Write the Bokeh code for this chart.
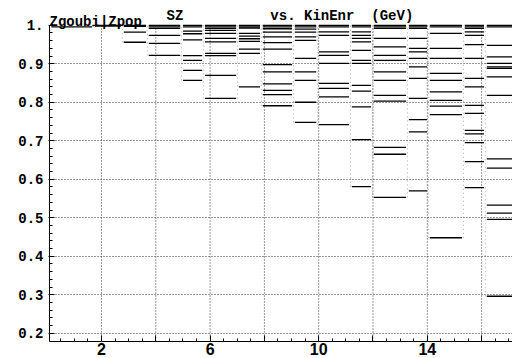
from bokeh.plotting import figure
from bokeh.models import FixedTicker, Range1d, ColumnDataSource
from bokeh.core.properties import value
from bokeh.embed import file_html
from bokeh.resources import INLINE
import numpy as np

# ---- data ----
# energy (GeV) boundaries between successive plateaus
energy_edges = [0.1, 1.71, 2.77, 3.69, 4.95, 5.76, 7.01, 7.89, 9.07, 9.96,
                11.17, 11.98, 13.27, 14.04, 15.33, 16.14, 17.2]

# SZ plateau levels in each energy interval
sz_00 = [0.996]
sz_01 = [1.0, 0.998]
sz_02 = [1.0, 0.997, 0.982, 0.956]
sz_03 = [1.0, 0.996, 0.992, 0.974, 0.953, 0.922]
sz_04 = [1.0, 0.996, 0.985, 0.978, 0.962, 0.921, 0.909, 0.883, 0.857]
sz_05 = [1.0, 0.996, 0.992, 0.987, 0.979, 0.966, 0.957, 0.927, 0.921, 0.870, 0.810]
sz_06 = [1.0, 0.996, 0.993, 0.979, 0.972, 0.965, 0.958, 0.938, 0.927, 0.840]
sz_07 = [1.0, 0.996, 0.991, 0.982, 0.970, 0.955, 0.938, 0.898, 0.879, 0.848, 0.831, 0.820, 0.791]
sz_08 = [1.0, 0.996, 0.990, 0.982, 0.970, 0.961, 0.914, 0.879, 0.857, 0.800, 0.748]
sz_09 = [1.0, 0.996, 0.983, 0.974, 0.931, 0.922, 0.901, 0.849, 0.836, 0.814, 0.742]
sz_10 = [1.0, 0.996, 0.983, 0.974, 0.966, 0.957, 0.935, 0.909, 0.901, 0.844, 0.829, 0.788, 0.703, 0.581]
sz_11 = [1.0, 0.996, 0.992, 0.966, 0.944, 0.922, 0.909, 0.879, 0.857, 0.818, 0.803, 0.683, 0.665, 0.553]
sz_12 = [1.0, 0.996, 0.992, 0.966, 0.940, 0.931, 0.914, 0.892, 0.862, 0.810, 0.755, 0.723, 0.570]
sz_13 = [1.0, 0.996, 0.979, 0.940, 0.914, 0.875, 0.857, 0.827, 0.805, 0.790, 0.768, 0.448]
sz_14 = [1.0, 0.996, 0.992, 0.983, 0.974, 0.950, 0.914, 0.862, 0.840, 0.792, 0.771, 0.727, 0.718, 0.695, 0.646, 0.578]
sz_15 = [1.0, 0.996, 0.948, 0.918, 0.901, 0.892, 0.888, 0.866, 0.818, 0.653, 0.629, 0.533, 0.512, 0.496, 0.296]

sz_levels = [sz_00, sz_01, sz_02, sz_03, sz_04, sz_05, sz_06, sz_07,
             sz_08, sz_09, sz_10, sz_11, sz_12, sz_13, sz_14, sz_15]

x_tick_values = [2, 4, 6, 8, 10, 12, 14, 16]
x_tick_labels = ["2", "", "6", "", "10", "", "14", ""]
y_tick_values = [0.2, 0.3, 0.4, 0.5, 0.6, 0.7, 0.8, 0.9, 1.0]
y_tick_labels = ["0.2", "0.3", "0.4", "0.5", "0.6", "0.7", "0.8", "0.9", "1."]

header_texts = ["Zgoubi|Zpop", "SZ", "vs. KinEnr", "(GeV)"]

# ---- ranges ----
X_LO, X_HI = 0.085, 17.138
Y_LO, Y_HI = 0.1785, 1.0644
Y_TOP = 1.0

# ---- build segments ----
x0, x1, ys = [], [], []
for i, lev in enumerate(sz_levels):
    a, b = energy_edges[i], energy_edges[i + 1]
    for v in lev:
        x0.append(a + 0.05)
        x1.append(b - 0.05)
        ys.append(v)
seg = ColumnDataSource(dict(x0=x0, x1=x1, y=ys))

bx, blo = [], []
for i in range(1, len(sz_levels)):
    bx.append(energy_edges[i])
    blo.append(min(min(sz_levels[i - 1]), min(sz_levels[i])))
trans = ColumnDataSource(dict(x=bx, lo=blo, hi=[1.0] * len(bx)))

p = figure(width=512, height=358, output_backend="svg", toolbar_location=None,
           x_range=Range1d(X_LO, X_HI), y_range=Range1d(Y_LO, Y_HI),
           min_border_left=49, min_border_right=0, min_border_top=0,
           min_border_bottom=17)
p.outline_line_color = None
p.background_fill_color = "white"
p.border_fill_color = "white"

# vertical grid lines (stop at SZ = 1)
vg = ColumnDataSource(dict(x=x_tick_values, lo=[Y_LO] * len(x_tick_values),
                           hi=[Y_TOP] * len(x_tick_values)))
p.segment(x0="x", y0="lo", x1="x", y1="hi", source=vg,
          line_color="#333333", line_width=1, line_dash="1 2")
p.xgrid.visible = False
p.ygrid.ticker = FixedTicker(ticks=y_tick_values[:-1])
p.ygrid.grid_line_color = "#333333"
p.ygrid.grid_line_dash = "1 2"
p.ygrid.grid_line_width = 1

# spin-flip transition traces
p.segment(x0="x", y0="lo", x1="x", y1="hi", source=trans,
          line_color="#555555", line_width=1, line_dash="1 3", line_alpha=0.5)
# SZ plateaus
p.segment(x0="x0", y0="y", x1="x1", y1="y", source=seg,
          line_color="black", line_width=1.3)

# x axis
xa = p.xaxis[0]
xa.ticker = FixedTicker(ticks=x_tick_values, minor_ticks=list(np.arange(0.5, 17.01, 0.5)))
xa.major_label_overrides = {v: l for v, l in zip(x_tick_values, x_tick_labels)}
xa.major_label_standoff = 1
xa.major_tick_in = 6
xa.major_tick_out = 0
xa.minor_tick_in = 3
xa.minor_tick_out = 0
xa.major_label_text_font = "Liberation Sans"
xa.major_label_text_font_style = "bold"
xa.major_label_text_font_size = "16px"
xa.major_label_text_color = "black"
xa.axis_line_color = "black"

# y axis
ya = p.yaxis[0]
ya.bounds = (Y_LO, Y_TOP)
ya.ticker = FixedTicker(ticks=y_tick_values, minor_ticks=list(np.arange(0.20, 1.001, 0.02)))
ya.major_label_overrides = {v: l for v, l in zip(y_tick_values, y_tick_labels)}
ya.major_tick_in = 5
ya.major_tick_out = 1
ya.minor_tick_in = 3
ya.minor_tick_out = 0
ya.major_label_standoff = 5
ya.major_label_text_font = "Liberation Mono"
ya.major_label_text_font_style = "bold"
ya.major_label_text_font_size = "14px"
ya.major_label_text_color = "black"
ya.axis_line_color = "black"

# header texts (inside the frame, above SZ = 1)
p.text(x=[0.085, 4.394, 8.22, 11.937], y=[1.0073, 1.0229, 1.0229, 1.0229],
       text=header_texts,
       text_font=value("Liberation Mono"), text_font_style="bold",
       text_font_size="14px", text_baseline="alphabetic", text_align="left",
       text_color="black")

open("out.html", "w").write(file_html(p, INLINE))
